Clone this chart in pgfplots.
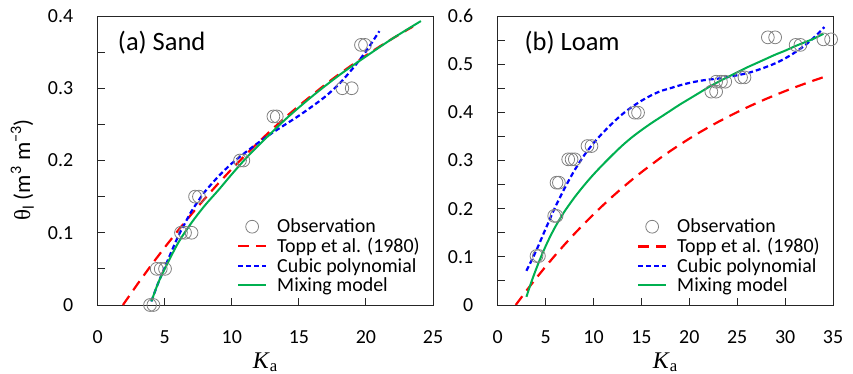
\documentclass[border=0pt]{standalone}
\usepackage{fontspec}
\setmainfont{Carlito}
\newfontfamily\tnr{Liberation Serif}
\usepackage{pgfplots}
\pgfplotsset{compat=1.18}
\definecolor{obsgray}{RGB}{128,128,128}
\definecolor{toppred}{RGB}{255,0,0}
\definecolor{cubblue}{RGB}{0,0,255}
\definecolor{mixgreen}{RGB}{0,176,80}

\pgfplotsset{
 myax/.style={
  scale only axis, width=335.3bp, height=289bp,
  axis line style={line width=1pt, black!85},
  tick align=inside, xtick pos=bottom, ytick pos=left,
  major tick length=7bp, minor tick length=7bp,
  every tick/.style={line width=1pt, black!85},
  minor y tick num=1,
  /pgf/number format/assume math mode=true,
  ticklabel style={font=\fontsize{20}{24}\selectfont},
  yticklabel style={xshift=-21bp, /pgf/number format/fixed, /pgf/number format/precision=1},
  xticklabel style={yshift=-22bp},
  xlabel={{\tnr\fontsize{24}{28}\selectfont\textit{K}\textsubscript{a}}},
  every axis x label/.style={at={(axis description cs:0.5,-0.218)}, anchor=base},
  legend style={draw=none, fill=none, font=\fontsize{20}{23}\selectfont,
    inner sep=0pt, row sep=0bp, column sep=8bp, cells={anchor=west},
    at={(rel axis cs:0.415,0.305)}, anchor=north west},
  legend cell align=left,
  legend image code/.code={\draw[#1] (0bp,0bp) -- (28bp,0bp);},
 },
 obs/.style={only marks, mark=o, mark size=6.4bp, mark options={draw=obsgray, line width=0.8pt},
   legend image code/.code={\draw[#1] plot coordinates {(14bp,0bp)};}},
 topp/.style={no marks, toppred, line width=2.2bp, dash pattern=on 11bp off 7bp},
 cub/.style={no marks, cubblue, line width=2.2bp, dash pattern=on 5bp off 3bp, smooth},
 mix/.style={no marks, mixgreen, line width=2bp, smooth},
}

\begin{document}
\begin{tikzpicture}
\path[use as bounding box] (0,0) rectangle (853bp,374bp);
% ---------------- (a) Sand ----------------
\begin{axis}[myax, at={(97.7bp,69bp)}, anchor=south west, clip=false,
  xmin=0, xmax=25, ymin=0, ymax=0.4,
  xtick={0,5,10,15,20,25}, ytick={0,0.1,0.2,0.3,0.4},
]
\addplot[obs] coordinates {
 (3.9,0) (4.15,0) (4.4,0.05) (4.7,0.05) (5.02,0.05)
 (6.21,0.1) (6.51,0.1) (7.0,0.1) (7.26,0.15) (7.55,0.15)
 (10.61,0.2) (10.86,0.2) (13.1,0.261) (13.35,0.261)
 (18.24,0.30) (18.94,0.30) (19.63,0.36) (19.93,0.36)};
\addlegendentry{Observation}
\addplot[topp] coordinates {
 (1.88,0) (2,0.0032) (3,0.0298) (4,0.0553) (5,0.0798) (6,0.1033) (7,0.1259)
 (8,0.1476) (9,0.1684) (10,0.1883) (11,0.2073) (12,0.2256) (13,0.2431) (14,0.2598)
 (15,0.2757) (16,0.2908) (17,0.3056) (18,0.3195) (19,0.3327) (20,0.3454)
 (21,0.3575) (22,0.3690) (23,0.3800) (23.5,0.3853)};
\addlegendentry{Topp et al. (1980)}
\addplot[cub] coordinates {
 (4.0,0.005) (4.5,0.030) (5.0,0.052) (5.5,0.074) (6.0,0.095) (6.5,0.113)
 (7.0,0.130) (7.5,0.144) (8.0,0.157) (9.0,0.178) (10.0,0.196) (11.0,0.211)
 (12.0,0.225) (13.0,0.238) (14.0,0.250) (15.0,0.262) (16.0,0.275) (17.0,0.289)
 (18.0,0.306) (19.0,0.327) (20.0,0.351) (21.0,0.379)};
\addlegendentry{Cubic polynomial}
\addplot[mix] coordinates {
 (4.0,0.005) (4.5,0.030) (5.0,0.050) (6.0,0.086) (7.0,0.114) (8.0,0.138)
 (9.0,0.159) (10.0,0.181) (11.0,0.202) (12.0,0.221) (14.0,0.257) (16.0,0.289)
 (18.0,0.318) (20.0,0.344) (22.0,0.369) (24.1,0.393)};
\addlegendentry{Mixing model}
\node[anchor=base west, font=\fontsize{26.6}{30}\selectfont] at (rel axis cs:0.050,0.882) {(a) Sand};
\node[rotate=90, anchor=center, font=\fontsize{23}{27}\selectfont] at (rel axis cs:-0.225,0.468)
  {{\tnr θ}\textsubscript{l} (m\textsuperscript{3} m\textsuperscript{−3})};
\end{axis}
% ---------------- (b) Loam ----------------
\begin{axis}[myax, at={(497.7bp,69bp)}, anchor=south west,
  xmin=0, xmax=35, ymin=0, ymax=0.6,
  xtick={0,5,10,15,20,25,30,35}, ytick={0,0.1,0.2,0.3,0.4,0.5,0.6},
]
\addplot[obs] coordinates {
 (4.05,0.1017) (4.3,0.1017) (5.9,0.185) (6.14,0.185) (6.14,0.254) (6.39,0.254)
 (7.36,0.3024) (7.71,0.3024) (8.05,0.3024) (9.37,0.33) (9.79,0.33)
 (14.3,0.3993) (14.65,0.3993) (22.3,0.443) (22.8,0.443)
 (22.8,0.4636) (23.3,0.4636) (23.75,0.4636) (25.4,0.4726) (25.76,0.4726)
 (28.2,0.5557) (28.96,0.5557) (31.1,0.54) (31.6,0.54) (34.0,0.5515) (34.8,0.5515)};
\addlegendentry{Observation}
\addplot[topp] coordinates {
 (1.88,0) (2,0.0032) (3,0.0298) (4,0.0553) (5,0.0798) (6,0.1033) (7,0.1259)
 (8,0.1476) (9,0.1684) (10,0.1883) (11,0.2073) (12,0.2256) (13,0.2431) (14,0.2598)
 (15,0.2757) (16,0.2908) (17,0.3056) (18,0.3195) (19,0.3327) (20,0.3454)
 (21,0.3575) (22,0.3690) (23,0.3800) (24,0.3904) (25,0.4004) (26,0.4100)
 (27,0.4191) (28,0.4278) (29,0.4361) (30,0.4441) (31,0.4518) (32,0.4591)
 (33,0.4662) (34,0.4730)};
\addlegendentry{Topp et al. (1980)}
\addplot[cub] coordinates {
 (3.0,0.071) (4.0,0.112) (5.0,0.158) (6.0,0.203) (7.0,0.243) (8.0,0.279)
 (9.0,0.310) (10.0,0.336) (11.0,0.358) (12.0,0.378) (13.0,0.396) (14.0,0.411)
 (15.0,0.424) (16.0,0.435) (17.0,0.444) (18.0,0.450) (19.0,0.456) (20.0,0.461)
 (21.0,0.465) (22.0,0.468) (23.0,0.470) (24.0,0.473) (25.0,0.477) (26.0,0.481)
 (27.0,0.487) (28.0,0.494) (29.0,0.502) (30.0,0.512) (31.0,0.524) (32.0,0.538)
 (33.0,0.555) (34.1,0.577)};
\addlegendentry{Cubic polynomial}
\addplot[mix] coordinates {
 (3.0,0.017) (3.5,0.047) (4.0,0.074) (4.5,0.099) (5.0,0.122) (5.5,0.143)
 (6.0,0.162) (6.5,0.179) (7.0,0.195) (8.0,0.223) (9.0,0.248) (10.0,0.271)
 (11.0,0.292) (12.0,0.312) (13.0,0.331) (14.0,0.348) (15.0,0.363) (16.0,0.377)
 (17.0,0.390) (18.0,0.403) (19.0,0.416) (20.0,0.428) (21.0,0.440) (22.0,0.452)
 (23.0,0.463) (24.0,0.473) (25.0,0.483) (26.0,0.493) (27.0,0.502) (28.0,0.511)
 (29.0,0.520) (30.0,0.528) (31.0,0.537) (32.0,0.545) (33.0,0.553) (34.0,0.563)};
\addlegendentry{Mixing model}
\node[anchor=base west, font=\fontsize{26.6}{30}\selectfont] at (rel axis cs:0.0700,0.882) {(b) Loam};
\end{axis}
\end{tikzpicture}
\end{document}
